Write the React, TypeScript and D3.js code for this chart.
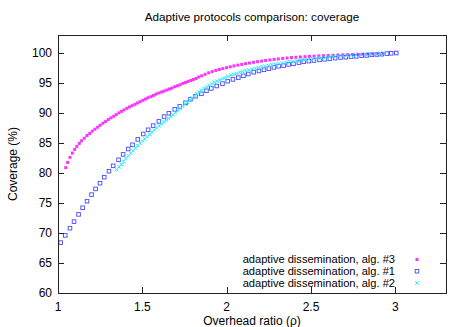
import React, { useEffect, useRef } from 'react';
import * as d3 from 'd3';

const WIDTH = 466;
const HEIGHT = 327;

const TITLE = 'Adaptive protocols comparison: coverage';
const X_LABEL = 'Overhead ratio (\u03c1)';
const Y_LABEL = 'Coverage (%)';
const X_TICKS = [1, 1.5, 2, 2.5, 3];
const Y_TICKS = [60, 65, 70, 75, 80, 85, 90, 95, 100];

// adaptive dissemination, alg. #3
const alg3X = [
  1.046, 1.057, 1.071, 1.085, 1.099, 1.112, 1.126, 1.14, 1.156, 1.172, 1.188, 1.203, 1.219, 1.235, 1.25, 1.266,
  1.282, 1.298, 1.314, 1.33, 1.345, 1.361, 1.377, 1.392, 1.408, 1.424, 1.44, 1.456, 1.472, 1.487, 1.503, 1.519,
  1.534, 1.55, 1.566, 1.582, 1.598, 1.614, 1.629, 1.645, 1.661, 1.676, 1.692, 1.708, 1.724, 1.74, 1.756, 1.771,
  1.787, 1.803, 1.818, 1.834, 1.852, 1.872, 1.893, 1.914, 1.935, 1.956, 1.977, 1.999, 2.021, 2.043, 2.066, 2.089,
  2.112, 2.135, 2.159, 2.183, 2.207, 2.231, 2.256, 2.281, 2.306, 2.332, 2.358, 2.384, 2.41, 2.437, 2.464, 2.491,
  2.518, 2.546, 2.574, 2.602, 2.63, 2.659, 2.688, 2.717, 2.746, 2.776, 2.806, 2.836, 2.866, 2.896, 2.926,
];
const alg3Y = [
  80.9, 81.77, 82.6, 83.32, 83.93, 84.43, 84.92, 85.37, 85.8, 86.25, 86.58, 86.97, 87.3, 87.63, 87.96, 88.29,
  88.57, 88.91, 89.19, 89.45, 89.73, 90.02, 90.28, 90.51, 90.78, 91.01, 91.23, 91.44, 91.67, 91.89, 92.11, 92.34,
  92.55, 92.72, 92.93, 93.17, 93.33, 93.5, 93.66, 93.83, 94.0, 94.16, 94.38, 94.54, 94.71, 94.93, 95.09, 95.26,
  95.42, 95.59, 95.75, 95.99, 96.2, 96.45, 96.7, 96.9, 97.1, 97.25, 97.4, 97.55, 97.7, 97.85, 97.98, 98.1,
  98.22, 98.33, 98.45, 98.55, 98.65, 98.75, 98.84, 98.93, 99.01, 99.09, 99.16, 99.23, 99.29, 99.34, 99.39, 99.44,
  99.48, 99.52, 99.56, 99.6, 99.63, 99.66, 99.69, 99.72, 99.75, 99.78, 99.81, 99.84, 99.87, 99.9, 99.93,
];

// adaptive dissemination, alg. #1
const alg1X = [
  1.016, 1.043, 1.071, 1.095, 1.122, 1.146, 1.172, 1.199, 1.223, 1.249, 1.274, 1.302, 1.327, 1.359, 1.386, 1.416,
  1.442, 1.473, 1.505, 1.534, 1.564, 1.598, 1.629, 1.657, 1.692, 1.722, 1.756, 1.785, 1.815, 1.85, 1.88, 1.909,
  1.941, 1.975, 2.006, 2.037, 2.069, 2.099, 2.128, 2.16, 2.191, 2.221, 2.25, 2.28, 2.308, 2.337, 2.367, 2.396,
  2.428, 2.457, 2.487, 2.517, 2.55, 2.58, 2.611, 2.643, 2.675, 2.706, 2.737, 2.768, 2.8, 2.83, 2.86, 2.89,
  2.92, 2.95, 2.975, 3.005,
];
const alg1Y = [
  68.4, 69.6, 70.8, 71.9, 73.1, 74.2, 75.3, 76.4, 77.35, 78.3, 79.3, 80.3, 81.2, 82.2, 83.1, 84.0,
  84.7, 85.6, 86.5, 87.2, 87.9, 88.6, 89.4, 89.95, 90.6, 91.1, 91.7, 92.3, 92.8, 93.2, 93.7, 94.1,
  94.5, 94.9, 95.3, 95.6, 95.9, 96.2, 96.5, 96.8, 97.0, 97.2, 97.4, 97.6, 97.8, 97.9, 98.1, 98.2,
  98.4, 98.55, 98.65, 98.75, 98.85, 98.95, 99.05, 99.15, 99.25, 99.3, 99.4, 99.45, 99.55, 99.6, 99.7, 99.75,
  99.8, 99.9, 99.95, 100.0,
];

// adaptive dissemination, alg. #2
const alg2X = [
  1.347, 1.361, 1.375, 1.389, 1.403, 1.417, 1.431, 1.445, 1.459, 1.473, 1.487, 1.501, 1.515, 1.529, 1.543, 1.557,
  1.571, 1.585, 1.599, 1.613, 1.627, 1.641, 1.655, 1.669, 1.683, 1.697, 1.711, 1.725, 1.739, 1.753, 1.767, 1.781,
  1.795, 1.809, 1.823, 1.837, 1.851, 1.866, 1.881, 1.896, 1.911, 1.927, 1.943, 1.959, 1.975, 1.991, 2.008, 2.025,
  2.042, 2.059, 2.077, 2.095, 2.113, 2.131, 2.15, 2.169, 2.188, 2.207, 2.227, 2.247, 2.267, 2.288, 2.309, 2.33,
  2.352, 2.374, 2.396, 2.418, 2.441, 2.464, 2.487, 2.511, 2.535, 2.559, 2.584, 2.609, 2.634, 2.66, 2.686, 2.712,
  2.739, 2.766, 2.793, 2.821, 2.849, 2.877, 2.905, 2.933,
];
const alg2Y = [
  80.55, 81.0, 81.45, 81.9, 82.4, 82.85, 83.3, 83.7, 84.15, 84.55, 84.95, 85.35, 85.7, 86.05, 86.4, 86.8,
  87.15, 87.5, 87.85, 88.15, 88.5, 88.8, 89.1, 89.4, 89.7, 90.05, 90.4, 90.75, 91.1, 91.45, 91.8, 92.15,
  92.5, 92.85, 93.2, 93.5, 93.8, 94.1, 94.35, 94.6, 94.85, 95.1, 95.3, 95.5, 95.7, 95.9, 96.1, 96.3,
  96.45, 96.6, 96.75, 96.9, 97.05, 97.18, 97.3, 97.43, 97.56, 97.68, 97.8, 97.92, 98.04, 98.15, 98.25, 98.35,
  98.45, 98.55, 98.64, 98.72, 98.8, 98.88, 98.96, 99.04, 99.12, 99.19, 99.26, 99.33, 99.4, 99.46, 99.52, 99.58,
  99.63, 99.68, 99.73, 99.78, 99.82, 99.86, 99.9, 99.94,
];

const SERIES = [
  { label: 'adaptive dissemination, alg. #3', xs: alg3X, ys: alg3Y, kind: 'filled', color: '#ff33ff' },
  { label: 'adaptive dissemination, alg. #1', xs: alg1X, ys: alg1Y, kind: 'open', color: '#4848ff' },
  { label: 'adaptive dissemination, alg. #2', xs: alg2X, ys: alg2Y, kind: 'cross', color: '#22eeff' },
];

const FONT = '"Liberation Sans", Arial, sans-serif';

function drawMarker(g: any, kind: string, color: string, cx: number, cy: number) {
  if (kind === 'filled') {
    g.append('rect')
      .attr('x', cx - 1.5).attr('y', cy - 1.5)
      .attr('width', 3).attr('height', 3)
      .attr('fill', color);
  } else if (kind === 'open') {
    g.append('rect')
      .attr('x', cx - 1.8).attr('y', cy - 1.8)
      .attr('width', 3.6).attr('height', 3.6)
      .attr('fill', 'none')
      .attr('stroke', color)
      .attr('stroke-width', 0.9);
  } else {
    g.append('path')
      .attr('d', `M${cx - 1.7},${cy - 1.7}L${cx + 1.7},${cy + 1.7}M${cx - 1.7},${cy + 1.7}L${cx + 1.7},${cy - 1.7}`)
      .attr('stroke', color)
      .attr('stroke-width', 1)
      .attr('fill', 'none');
  }
}

export default function App() {
  const ref = useRef<SVGSVGElement>(null);

  useEffect(() => {
    const svg = d3.select(ref.current);
    svg.selectAll('*').remove();

    const left = 58, right = 446, top = 35, bottom = 293;
    const x = d3.scaleLinear().domain([1, 3.3]).range([left, right]);
    const y = d3.scaleLinear().domain([60, 103]).range([bottom, top]);

    svg.append('rect').attr('width', WIDTH).attr('height', HEIGHT).attr('fill', '#fff');

    // series, in gnuplot's plotting order
    SERIES.forEach((s) => {
      const g = svg.append('g');
      s.xs.forEach((xv, i) => drawMarker(g, s.kind, s.color, x(xv), y(s.ys[i])));
    });

    // ticks (inward, mirrored)
    const ticks = svg.append('g').attr('stroke', '#222').attr('stroke-width', 1);
    Y_TICKS.forEach((t) => {
      const py = Math.round(y(t)) + 0.5;
      ticks.append('line').attr('x1', left).attr('x2', left + 6).attr('y1', py).attr('y2', py);
      ticks.append('line').attr('x1', right - 6).attr('x2', right).attr('y1', py).attr('y2', py);
    });
    X_TICKS.forEach((t) => {
      const px = Math.round(x(t)) + 0.5;
      ticks.append('line').attr('x1', px).attr('x2', px).attr('y1', bottom).attr('y2', bottom - 6);
      ticks.append('line').attr('x1', px).attr('x2', px).attr('y1', top).attr('y2', top + 6);
    });

    // border
    svg.append('rect')
      .attr('x', left + 0.5).attr('y', top + 0.5)
      .attr('width', right - left).attr('height', bottom - top)
      .attr('fill', 'none').attr('stroke', '#222').attr('stroke-width', 1);

    const text = svg.append('g').attr('font-family', FONT).attr('font-size', 12).attr('fill', '#000');

    Y_TICKS.forEach((t) => {
      text.append('text').attr('x', 52).attr('y', y(t)).attr('dy', '0.36em')
        .attr('text-anchor', 'end').text(String(t));
    });
    X_TICKS.forEach((t) => {
      text.append('text').attr('x', x(t)).attr('y', 311)
        .attr('text-anchor', 'middle').text(String(t));
    });

    text.append('text').attr('x', (left + right) / 2).attr('y', 21)
      .attr('text-anchor', 'middle').attr('font-size', 11.7).text(TITLE);
    text.append('text').attr('x', (left + right) / 2).attr('y', 325)
      .attr('text-anchor', 'middle').text(X_LABEL);
    text.append('text').attr('transform', `translate(16.5,${(top + bottom) / 2}) rotate(-90)`)
      .attr('text-anchor', 'middle').text(Y_LABEL);

    // legend
    SERIES.forEach((s, i) => {
      const cy = 259.5 + i * 11.7;
      text.append('text').attr('x', 395).attr('y', cy).attr('dy', '0.35em')
        .attr('font-size', 11.1)
        .attr('text-anchor', 'end').text(s.label);
      drawMarker(svg.append('g'), s.kind, s.color, 417, cy);
    });
  }, []);

  return (
    <svg
      ref={ref}
      width={WIDTH}
      height={HEIGHT}
      style={{ position: 'absolute', left: 0, top: 0 }}
    />
  );
}
